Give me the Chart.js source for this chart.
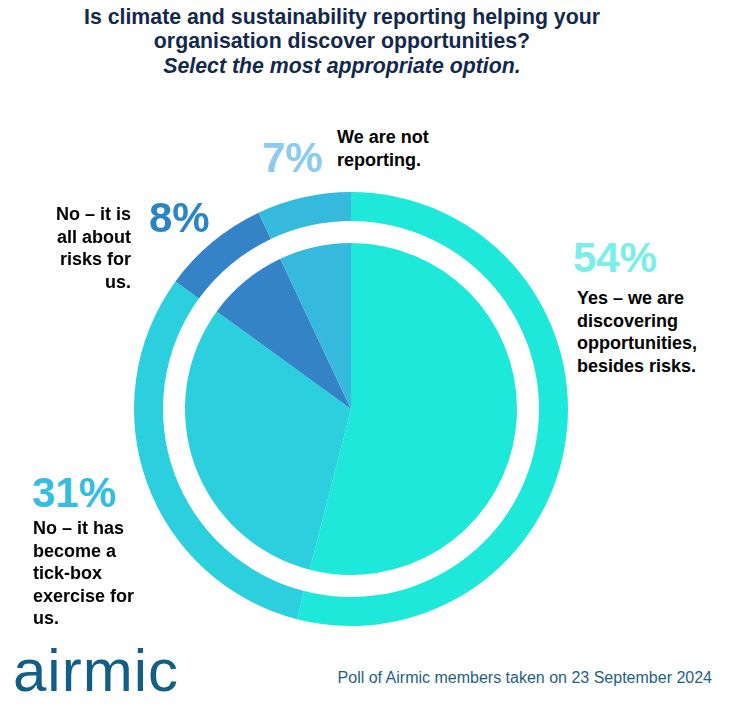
<!DOCTYPE html>
<html>
<head>
<meta charset="utf-8">
<script src="https://cdn.jsdelivr.net/npm/chart.js@4"></script>
<style>
  html, body { margin: 0; padding: 0; background: #fff; }
  #wrap { position: relative; width: 732px; height: 720px; overflow: hidden; font-family: "Liberation Sans", Arial, sans-serif; }
  #chart { position: absolute; left: 134px; top: 192px; }
  .title { position: absolute; left: 0; width: 684px; text-align: center; color: #13294b; font-weight: bold; font-size: 21.3px; line-height: 24px; }
  .pct { position: absolute; font-weight: bold; font-size: 42px; line-height: 42px; white-space: nowrap; }
  .lbl { position: absolute; font-weight: bold; font-size: 18px; line-height: 22.5px; color: #000; white-space: nowrap; }
  #logo { position: absolute; left: 13px; top: 641px; font-size: 60px; letter-spacing: 1px; color: #125e86; line-height: 60px; }
  #note { position: absolute; right: 20px; top: 669px; font-size: 16px; color: #1f5f85; white-space: nowrap; }
</style>
</head>
<body>
<div id="wrap">
  <div class="title" style="top:5px;">Is climate and sustainability reporting helping your</div>
  <div class="title" style="top:29px;">organisation discover opportunities?</div>
  <div class="title" style="top:54px;font-style:italic;">Select the most appropriate option.</div>
  <canvas id="chart" width="434" height="434"></canvas>
  <div id="labels"></div>
  <div id="logo">airmic</div>
  <div id="note">Poll of Airmic members taken on 23 September 2024</div>
</div>
<script>
const categories = [
  "Yes – we are discovering opportunities, besides risks.",
  "No – it has become a tick-box exercise for us.",
  "No – it is all about risks for us.",
  "We are not reporting."
];
const values = [54, 31, 8, 7];
const sliceColors = ["#1ee8da", "#2ccfdd", "#3583c7", "#35bade"];
const labelColors = ["#7aefe8", "#35bde2", "#2a85c5", "#8ccbee"];
const labelLines = [
  ["Yes – we are", "discovering", "opportunities,", "besides risks."],
  ["No – it has", "become a", "tick-box", "exercise for", "us."],
  ["No – it is", "all about", "risks for", "us."],
  ["We are not", "reporting."]
];

// label layout (positions only)
const layout = [
  { px: 573, py: 237, tx: 577, ty: 287, align: "left" },
  { px: 32, py: 472, tx: 33, ty: 517, align: "left" },
  { px: 149, py: 197, tx: 131, ty: 203, align: "right" },
  { px: 262, py: 137, tx: 337, ty: 126, align: "left" }
];

const lbl = document.getElementById("labels");
values.forEach((v, i) => {
  const p = document.createElement("div");
  p.className = "pct";
  p.style.left = layout[i].px + "px";
  p.style.top = layout[i].py + "px";
  p.style.color = labelColors[i];
  p.textContent = v + "%";
  lbl.appendChild(p);
  const t = document.createElement("div");
  t.className = "lbl";
  t.style.top = layout[i].ty + "px";
  if (layout[i].align === "right") {
    t.style.right = (732 - layout[i].tx) + "px";
    t.style.textAlign = "right";
  } else {
    t.style.left = layout[i].tx + "px";
  }
  t.innerHTML = labelLines[i].join("<br>");
  lbl.appendChild(t);
});

new Chart(document.getElementById("chart"), {
  type: "doughnut",
  data: {
    labels: categories,
    datasets: [
      { data: values, backgroundColor: sliceColors, borderWidth: 0, hoverBorderWidth: 0, hoverOffset: 0, weight: 29 },
      { data: values, backgroundColor: "rgba(0,0,0,0)", borderWidth: 0, hoverBorderWidth: 0, hoverOffset: 0, weight: 22 },
      { data: values, backgroundColor: sliceColors, borderWidth: 0, hoverBorderWidth: 0, hoverOffset: 0, weight: 166 }
    ]
  },
  options: {
    responsive: false,
    animation: false,
    devicePixelRatio: 1,
    cutout: 0,
    events: [],
    layout: { padding: 0 },
    plugins: { legend: { display: false }, tooltip: { enabled: false }, title: { display: false } }
  }
});
</script>
</body>
</html>
